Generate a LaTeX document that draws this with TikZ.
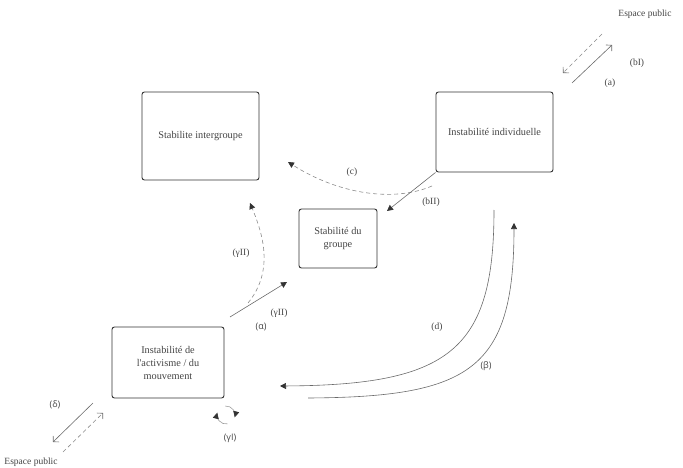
\documentclass[tikz,border=0pt]{standalone}
\usepackage{fontspec}
\setmainfont{Liberation Serif}
\newfontfamily\lblsans{Open Sans}
\usetikzlibrary{arrows.meta}
\definecolor{boxc}{HTML}{333333}
\definecolor{txtc}{HTML}{444444}
\definecolor{linec}{HTML}{6A6A6A}
\definecolor{dashc}{HTML}{8A8A8A}
\definecolor{lightc}{HTML}{A0A0A0}
\begin{document}
\begin{tikzpicture}[x=1pt,y=-1pt,
  box/.style={draw=boxc,line width=0.9pt,rounded corners=2.5pt,inner sep=2pt,align=center,text=txtc,font=\fontsize{10.3}{13}\selectfont},
  lbl/.style={text=txtc,font=\fontsize{9.5}{11}\selectfont,inner sep=0pt},
  slbl/.style={text=txtc,font=\lblsans\fontsize{9}{11}\selectfont,inner sep=0pt},
  solidl/.style={draw=linec,line width=0.6pt},
  lightl/.style={draw=lightc,line width=0.6pt},
  dashl/.style={draw=dashc,line width=0.6pt,dash pattern=on 4pt off 3pt},
  tri/.style={-{Triangle[length=6pt,width=6pt,color=boxc]}},
  barb/.style={-{Straight Barb[length=4pt,width=8.5pt,color=linec]}}
]
\useasboundingbox (0,0) rectangle (683,468);
% boxes
\node[box,minimum width=117pt,minimum height=88pt] (si) at (200.5,136) {Stabilite intergroupe};
\node[box,minimum width=117pt,minimum height=80pt] (ii) at (494.5,132) {Instabilité individuelle};
\node[box,minimum width=78pt,minimum height=59pt] (sg) at (338,238.5) {Stabilité du\\groupe};
\node[box,minimum width=112pt,minimum height=71pt] (ia) at (168,362.5) {Instabilité de\\l\textquotesingle activisme / du\\mouvement};
% labels
\node[lbl] (ep1) at (645,14) {Espace public};
\node[lbl] (lbI) at (637,63) {(bI)};
\node[lbl] (la) at (610,83) {(a)};
\node[lbl] (lc) at (352,172) {(c)};
\node[lbl] (lbII) at (431,202) {(bII)};
\node[lbl] (lg2a) at (241,253) {(γII)};
\node[lbl] (lg2b) at (279,313) {(γII)};
\node[slbl] (lal) at (261,327) {(α)};
\node[lbl] (ld) at (437,327) {(d)};
\node[slbl] (lbe) at (486,366) {(β)};
\node[slbl] (lde) at (55,405) {(δ)};
\node[slbl] (lg1) at (230,438) {(γI)};
\node[lbl] (ep2) at (31,462) {Espace public};
% coordinates
\coordinate (a1) at (572,83); \coordinate (a2) at (612,45);
\coordinate (b1) at (602,34); \coordinate (b2) at (563,73);
\coordinate (c1) at (432,186); \coordinate (c2) at (288,162);
\coordinate (bII2) at (387,211);
\coordinate (g1) at (248,303); \coordinate (g2) at (250,203);
\coordinate (al1) at (230,317); \coordinate (al2) at (287,282);
\coordinate (d1) at (494,210); \coordinate (d2) at (280,386);
\coordinate (be1) at (308,398); \coordinate (be2) at (514,223);
\coordinate (de1) at (93,403); \coordinate (de2) at (53,442);
\coordinate (dd1) at (63,452); \coordinate (dd2) at (103,413);
\coordinate (gc) at (226,415);
% connectors
\draw[solidl,barb] (a1) -- (a2);
\draw[dashl,barb] (b1) -- (b2);
\draw[dashl,tri] (c1) .. controls (395,202) and (340,195) .. (c2);
\draw[solidl,tri] (ii.south west) -- (bII2);
\draw[dashl,tri] (g1) .. controls (275,270) and (262,232) .. (g2);
\draw[solidl,tri] (al1) -- (al2);
\draw[solidl,tri] (d1) .. controls (494,350) and (450,385) .. (d2);
\draw[solidl,tri] (be1) .. controls (470,397) and (514,370) .. (be2);
\draw[solidl,barb] (de1) -- (de2);
\draw[dashl,barb] (dd1) -- (dd2);
\draw[lightl,tri] ([shift={(80:9)}]gc) arc[start angle=80,end angle=195,radius=9];
\draw[lightl,tri] ([shift={(265:9)}]gc) arc[start angle=265,end angle=375,radius=9];
\end{tikzpicture}
\end{document}
